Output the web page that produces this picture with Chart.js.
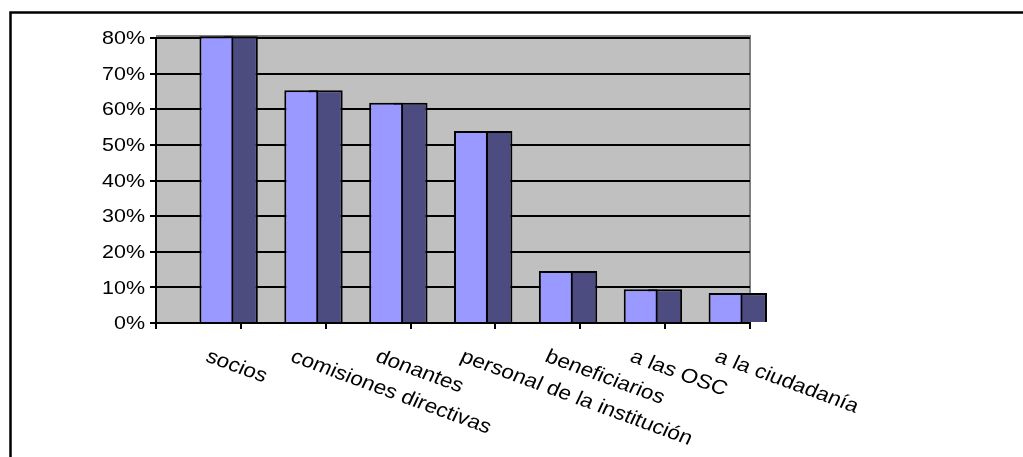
<!DOCTYPE html>
<html><head><meta charset="utf-8">
<script src="https://cdn.jsdelivr.net/npm/chart.js@4.4.0/dist/chart.umd.min.js"></script>
<style>html,body{margin:0;padding:0;background:#fff;overflow:hidden}#wrap{width:1023px;height:457px;position:relative}</style>
</head><body><div id="wrap"><canvas id="c" width="1023" height="457"></canvas></div>
<script>
const categories = ["socios","comisiones directivas","donantes","personal de la institución","beneficiarios","a las OSC","a la ciudadanía"];
const seriesFront = [80.5, 65.3, 61.8, 53.9, 14.6, 9.5, 8.4];
const seriesBack  = [80.5, 65.3, 61.8, 53.9, 14.6, 9.5, 8.4];
const yTicks = [0, 10, 20, 30, 40, 50, 60, 70, 80];
const yTickLabels = ["0%","10%","20%","30%","40%","50%","60%","70%","80%"];

const YFONT = '19px "Liberation Sans", Arial, sans-serif';
const XFONT = '20px "Liberation Sans", Arial, sans-serif';
const SX = 1.13;

const plotBg = {
  id: 'plotBg',
  beforeDraw(chart) {
    const {ctx, chartArea: a} = chart;
    ctx.save();
    ctx.fillStyle = '#C0C0C0';
    ctx.fillRect(a.left, a.top - 2, a.right - a.left, a.bottom - a.top + 2);
    ctx.strokeStyle = '#808080';
    ctx.lineWidth = 2;
    ctx.beginPath();
    ctx.moveTo(a.left, a.top - 2);
    ctx.lineTo(a.right, a.top - 2);
    ctx.lineTo(a.right, a.bottom);
    ctx.stroke();
    ctx.restore();
  }
};

const textPlugin = {
  id: 'texts',
  afterDraw(chart) {
    const {ctx} = chart;
    const xs = chart.scales.x, ys = chart.scales.y;
    ctx.save();
    ctx.fillStyle = '#000';
    ctx.font = YFONT;
    ctx.textAlign = 'right';
    ctx.textBaseline = 'middle';
    yTicks.forEach((v, i) => {
      const y = ys.getPixelForValue(v);
      ctx.save();
      ctx.translate(ys.right - 11, y + 1);
      ctx.scale(SX, 1);
      ctx.fillText(yTickLabels[i], 0, 0);
      ctx.restore();
    });
    ctx.font = XFONT;
    ctx.textAlign = 'left';
    ctx.textBaseline = 'alphabetic';
    const base = ys.getPixelForValue(0);
    categories.forEach((c, i) => {
      const x = xs.getPixelForValue(i);
      ctx.save();
      ctx.translate(x + 6, base + 38);
      ctx.scale(SX, 1);
      ctx.rotate(22.5 * Math.PI / 180);
      ctx.fillText(c, 0, 0);
      ctx.restore();
    });
    ctx.strokeStyle = '#000';
    ctx.lineWidth = 2.5;
    ctx.strokeRect(10.5, 12.5, 1200, 600);
    ctx.restore();
  }
};

new Chart(document.getElementById('c'), {
  type: 'bar',
  data: {
    labels: categories,
    datasets: [
      { data: seriesFront.map((v, i) => ({x: i, y: v})), xAxisID: 'xl', grouped: false, backgroundColor: '#9999FF', borderColor: '#000', borderWidth: 2, clip: false, barPercentage: 0.4, categoryPercentage: 1 },
      { data: seriesBack.map((v, i) => ({x: i, y: v})), xAxisID: 'xd', grouped: false, backgroundColor: '#4C4C80', borderColor: '#000', borderWidth: 2, clip: false, barPercentage: 0.4, categoryPercentage: 1 }
    ]
  },
  options: {
    responsive: false,
    animation: false,
    layout: { padding: { left: 150, right: 273, top: 38, bottom: 128 } },
    plugins: { legend: { display: false }, tooltip: { enabled: false } },
    scales: {
      x: { type: 'category', labels: categories, offset: true,
           grid: { offset: true, drawOnChartArea: false, color: '#000', lineWidth: 2, tickLength: 6 },
           border: { color: '#000', width: 2 }, ticks: { display: false } },
      xl: { type: 'linear', display: false, offset: false, grid: { offset: false }, min: -0.712, max: 6.288 },
      xd: { type: 'linear', display: false, offset: false, grid: { offset: false }, min: -1.0, max: 6.0 },
      y: { min: 0, max: 80, ticks: { stepSize: 10, display: false },
           grid: { color: '#000', lineWidth: 2, tickLength: 6 },
           border: { color: '#000', width: 2 } }
    }
  },
  plugins: [plotBg, textPlugin]
});
</script></body></html>
